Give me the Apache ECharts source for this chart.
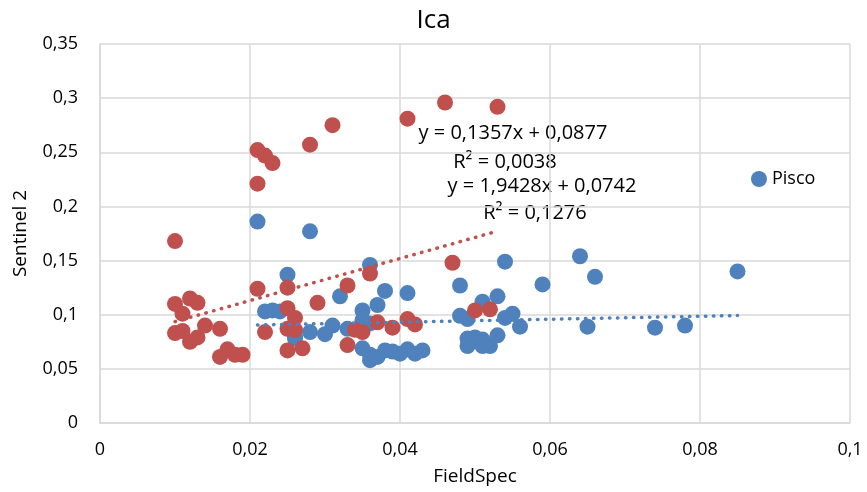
<!DOCTYPE html>
<html>
<head>
<meta charset="utf-8">
<script src="https://cdn.jsdelivr.net/npm/echarts@6/dist/echarts.min.js"></script>
<style>
  html, body { margin: 0; padding: 0; background: #fff; }
  #main { width: 867px; height: 492px; }
</style>
</head>
<body>
<div id="main"></div>
<script>
// Pisco (blue)
const piscoX = [0.021, 0.028, 0.025, 0.036, 0.032, 0.038, 0.041, 0.037, 0.035, 0.035,
    0.031, 0.030, 0.028, 0.026, 0.033, 0.022, 0.023, 0.024, 0.026, 0.035,
    0.036, 0.036, 0.037, 0.038, 0.039, 0.040, 0.041, 0.042, 0.043, 0.048,
    0.054, 0.059, 0.051, 0.053, 0.048, 0.049, 0.054, 0.055, 0.056, 0.049,
    0.049, 0.050, 0.051, 0.051, 0.052, 0.053, 0.064, 0.066, 0.085, 0.065,
    0.074, 0.078, 0.036]
const piscoY = [0.186, 0.177, 0.137, 0.146, 0.117, 0.122, 0.120, 0.109, 0.104, 0.095,
    0.090, 0.082, 0.084, 0.080, 0.087, 0.103, 0.104, 0.103, 0.078, 0.069,
    0.063, 0.058, 0.061, 0.067, 0.066, 0.064, 0.068, 0.064, 0.067, 0.127,
    0.149, 0.128, 0.112, 0.117, 0.099, 0.096, 0.097, 0.101, 0.089, 0.078,
    0.071, 0.079, 0.077, 0.071, 0.071, 0.081, 0.154, 0.135, 0.140, 0.089,
    0.088, 0.090, 0.092]

// Ica (red)
const icaX = [0.010, 0.021, 0.022, 0.023, 0.021, 0.028, 0.031, 0.041, 0.046, 0.053,
    0.021, 0.025, 0.029, 0.025, 0.026, 0.022, 0.025, 0.026, 0.025, 0.027,
    0.010, 0.012, 0.013, 0.011, 0.010, 0.011, 0.012, 0.013, 0.014, 0.016,
    0.016, 0.017, 0.018, 0.019, 0.036, 0.033, 0.033, 0.034, 0.035, 0.037,
    0.039, 0.041, 0.042, 0.047, 0.050, 0.052]
const icaY = [0.168, 0.252, 0.247, 0.240, 0.221, 0.257, 0.275, 0.281, 0.296, 0.292,
    0.124, 0.125, 0.111, 0.106, 0.097, 0.084, 0.087, 0.086, 0.067, 0.069,
    0.110, 0.115, 0.111, 0.101, 0.083, 0.085, 0.075, 0.079, 0.090, 0.087,
    0.061, 0.068, 0.063, 0.063, 0.138, 0.127, 0.072, 0.086, 0.084, 0.093,
    0.088, 0.096, 0.091, 0.148, 0.104, 0.105]

// trendline coefficients [slope, intercept]
const piscoFit = [0.1357, 0.0877]
const icaFit = [1.9428, 0.0742]

const blue = '#4F81BD'
const red = '#C0504D'
const font = 'Open Sans'

function pairs(xs, ys) {
    return xs.map((x, i) => [x, ys[i]])
}
function trend(xs, fit) {
    const a = Math.min(...xs), b = Math.max(...xs)
    return [[a, fit[0] * a + fit[1]], [b, fit[0] * b + fit[1]]]
}
function comma(v) {
    return String(+v.toFixed(4)).replace('.', ',')
}
function eqText(x, y, text) {
    return {
        type: 'text', x: x, y: y,
        style: { text: text, font: '20px "Open Sans"', fill: '#000', align: 'center', verticalAlign: 'middle' }
    }
}

var myChart = echarts.init(document.getElementById('main'));

option = {
    animation: false,
    backgroundColor: '#fff',
    textStyle: { fontFamily: font },
    title: {
        text: 'Ica',
        left: 'center',
        top: 3,
        textStyle: { fontFamily: font, fontSize: 26, fontWeight: 'normal', color: '#000' }
    },
    legend: {
        data: ['Pisco'],
        left: 746,
        top: 165,
        itemWidth: 16,
        itemHeight: 16,
        itemGap: 8,
        icon: 'circle',
        textStyle: { fontFamily: font, fontSize: 18, color: '#000' }
    },
    grid: { left: 100, right: 17, top: 44, bottom: 69, outerBoundsMode: 'none' },
    xAxis: {
        type: 'value',
        min: 0,
        max: 0.1,
        interval: 0.02,
        name: 'FieldSpec',
        nameLocation: 'middle',
        nameGap: 44,
        nameTextStyle: { fontFamily: font, fontSize: 19, color: '#000' },
        axisLine: { show: true, lineStyle: { color: '#d9d9d9', width: 1.5 } },
        axisTick: { show: false },
        axisLabel: { margin: 18, fontSize: 18, color: '#000', formatter: comma },
        splitLine: { show: true, lineStyle: { color: '#d9d9d9', width: 1.5 } }
    },
    yAxis: {
        type: 'value',
        min: 0,
        max: 0.35,
        interval: 0.05,
        name: 'Sentinel 2',
        nameLocation: 'middle',
        nameGap: 70,
        nameTextStyle: { fontFamily: font, fontSize: 19, color: '#000' },
        axisLine: { show: true, lineStyle: { color: '#d9d9d9', width: 1.5 } },
        axisTick: { show: false },
        axisLabel: { margin: 22, fontSize: 18, color: '#000', formatter: comma },
        splitLine: { show: true, lineStyle: { color: '#d9d9d9', width: 1.5 } }
    },
    series: [{
        name: 'Pisco',
        type: 'scatter',
        symbolSize: 16,
        itemStyle: { color: blue, opacity: 1 },
        data: pairs(piscoX, piscoY)
    }, {
        name: 'Ica',
        type: 'scatter',
        symbolSize: 16,
        itemStyle: { color: red, opacity: 1 },
        data: pairs(icaX, icaY)
    }, {
        name: 'Pisco trend',
        type: 'line',
        symbol: 'none',
        silent: true,
        lineStyle: { color: blue, width: 3.5, type: [0.5, 7.5], cap: 'round' },
        data: trend(piscoX, piscoFit)
    }, {
        name: 'Ica trend',
        type: 'line',
        symbol: 'none',
        silent: true,
        lineStyle: { color: red, width: 3.5, type: [0.5, 7.5], cap: 'round' },
        data: trend(icaX, icaFit)
    }],
    graphic: [
        eqText(513, 133, 'y = 0,1357x + 0,0877'),
        eqText(505, 162, 'R² = 0,0038'),
        eqText(542, 186, 'y = 1,9428x + 0,0742'),
        eqText(535, 213, 'R² = 0,1276')
    ]
};

myChart.setOption(option);
</script>
</body>
</html>
